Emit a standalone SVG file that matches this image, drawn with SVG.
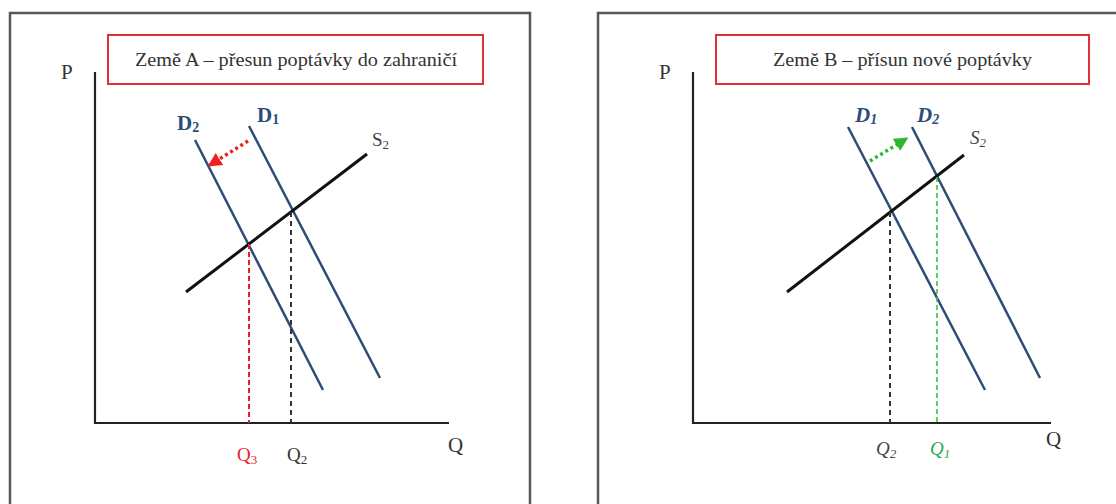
<svg xmlns="http://www.w3.org/2000/svg" width="1116" height="504" viewBox="0 0 1116 504">
<defs>
<style>
.frame{fill:none;stroke:#585858;stroke-width:2.5}
.title-box{fill:#fff;stroke:#e0303a;stroke-width:2}
.title{font-family:"Liberation Serif",serif;font-size:19px;fill:#333;text-anchor:middle}
.axis{stroke:#222;stroke-width:2.2;fill:none}
.ax-label{font-family:"Liberation Serif",serif;font-size:21px;fill:#333}
.demand{stroke:#2d4d78;stroke-width:2.5;fill:none}
.supply{stroke:#111;stroke-width:3;fill:none}
.dlabel{font-family:"Liberation Serif",serif;font-size:21px;font-weight:bold;fill:#2d4d78}
.dlabel-i{font-family:"Liberation Serif",serif;font-size:21px;font-weight:bold;font-style:italic;fill:#2d4d78}
.slabel{font-family:"Liberation Serif",serif;font-size:19px;fill:#444}
.qlabel{font-family:"Liberation Serif",serif;font-size:19px}
.dash-k{stroke:#333;stroke-width:2;stroke-dasharray:5 4;fill:none}
.dash-r{stroke:#e8202a;stroke-width:2;stroke-dasharray:5 3;fill:none}
.dash-g{stroke:#3cc43c;stroke-width:1.6;stroke-dasharray:5 3;fill:none}
.dot-r{stroke:#ee2020;stroke-width:3.5;stroke-dasharray:3 3;fill:none}
.dot-g{stroke:#2cb82c;stroke-width:3.5;stroke-dasharray:3 3;fill:none}
</style>
<marker id="ah-red" viewBox="0 0 10 10" refX="8" refY="5" markerWidth="4" markerHeight="4" orient="auto" markerUnits="strokeWidth">
<path d="M0,0 L10,5 L0,10 z" fill="#ee2020"/>
</marker>
<marker id="ah-green" viewBox="0 0 10 10" refX="8" refY="5" markerWidth="4" markerHeight="4" orient="auto" markerUnits="strokeWidth">
<path d="M0,0 L10,5 L0,10 z" fill="#2cb82c"/>
</marker>
</defs>
<rect x="0" y="0" width="1116" height="504" fill="#fff"/>

<!-- Panel A -->
<g id="panel-a">
<path class="frame" d="M10,510 L10,13 L530,13 L530,510"/>
<g id="title-a">
<rect class="title-box" x="108" y="35" width="375" height="49"/>
<text class="title" x="296" y="66" textLength="322" lengthAdjust="spacingAndGlyphs">Země A – přesun poptávky do zahraničí</text>
</g>
<g id="axes-a">
<path class="axis" d="M95,72 L95,423 L449,423"/>
<text class="ax-label" x="61" y="79">P</text>
<text class="ax-label" x="448" y="452">Q</text>
</g>
<g id="curve-d1-a">
<line class="demand" x1="249" y1="126" x2="380" y2="378"/>
<text class="dlabel" x="257" y="122">D<tspan font-size="14" dy="2">1</tspan></text>
</g>
<g id="curve-d2-a">
<line class="demand" x1="195" y1="140" x2="323" y2="390"/>
<text class="dlabel" x="177" y="130">D<tspan font-size="14" dy="2">2</tspan></text>
</g>
<g id="curve-s2-a">
<line class="supply" x1="186" y1="292" x2="367" y2="154"/>
<text class="slabel" x="372" y="146">S<tspan font-size="13" dy="3">2</tspan></text>
</g>
<g id="q3-a">
<text class="qlabel" x="237" y="461" fill="#e8202a">Q<tspan font-size="13" dy="3">3</tspan></text>
</g>
<g id="q2-a">
<text class="qlabel" x="287" y="461" fill="#333">Q<tspan font-size="13" dy="3">2</tspan></text>
</g>
</g>

<!-- Panel B -->
<g id="panel-b">
<path class="frame" d="M598,510 L598,13 L1120,13"/>
<g id="title-b">
<rect class="title-box" x="716" y="35" width="373" height="49"/>
<text class="title" x="902.5" y="66" textLength="259" lengthAdjust="spacingAndGlyphs">Země B – přísun nové poptávky</text>
</g>
<g id="axes-b">
<path class="axis" d="M693,72 L693,423 L1051,423"/>
<text class="ax-label" x="659" y="79">P</text>
<text class="ax-label" x="1046" y="446">Q</text>
</g>
<g id="curve-d1-b">
<line class="demand" x1="848" y1="127" x2="985" y2="390"/>
<text class="dlabel-i" x="855" y="122">D<tspan font-size="14" dy="2">1</tspan></text>
</g>
<g id="curve-d2-b">
<line class="demand" x1="912" y1="127" x2="1040" y2="378"/>
<text class="dlabel-i" x="917" y="122">D<tspan font-size="14" dy="2">2</tspan></text>
</g>
<g id="curve-s2-b">
<line class="supply" x1="787" y1="292" x2="964" y2="155"/>
<text class="slabel" x="970" y="144" font-style="italic">S<tspan font-size="13" dy="3">2</tspan></text>
</g>
<g id="q2-b">
<text class="qlabel" x="876" y="455" fill="#444" font-style="italic">Q<tspan font-size="13" dy="3">2</tspan></text>
</g>
<g id="q1-b">
<text class="qlabel" x="930" y="455" fill="#2fa84a" font-style="italic">Q<tspan font-size="13" dy="3">1</tspan></text>
</g>
</g>

<!-- Connectors -->
<g id="connectors">
<line class="dot-r" x1="248" y1="141" x2="210" y2="165" marker-end="url(#ah-red)"/>
<line class="dash-k" x1="291" y1="212" x2="291" y2="423"/>
<line class="dash-r" x1="249" y1="244" x2="249" y2="423"/>
<line class="dot-g" x1="870" y1="161" x2="906" y2="139" marker-end="url(#ah-green)"/>
<line class="dash-k" x1="890" y1="212" x2="890" y2="423"/>
<line class="dash-g" x1="937" y1="177" x2="937" y2="423"/>
</g>
</svg>
